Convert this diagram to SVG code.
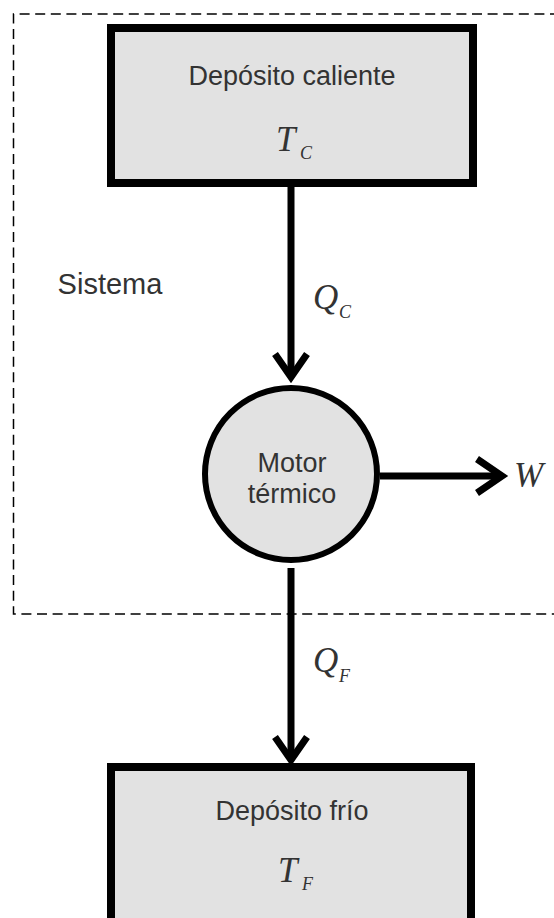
<svg xmlns="http://www.w3.org/2000/svg" width="554" height="918" viewBox="0 0 554 918">
<style>
.box{fill:#e2e2e2;stroke:#000;stroke-width:8}
.circ{fill:#e2e2e2;stroke:#000;stroke-width:6}
.lbl{font-family:"Liberation Sans",Arial,sans-serif;font-size:27px;fill:#333;text-anchor:middle}
.math{font-family:"Liberation Serif","Times New Roman",serif;font-style:italic;fill:#333}
.big{font-size:35px}
.sub{font-size:18px}
.conn{stroke:#000;stroke-width:7;fill:none}
.head{stroke:#000;stroke-width:7;fill:none;stroke-linejoin:miter}
.sys{fill:none;stroke:#000;stroke-width:1.5;stroke-dasharray:10 5.6}
</style>
<rect width="554" height="918" fill="#fff"/>
<g id="sistema">
<path class="sys" d="M560 14 H13.5 V614 H560"/>
<text class="lbl" x="110" y="294" style="font-size:29px">Sistema</text>
</g>
<g id="connectors">
<line class="conn" x1="291" y1="187" x2="291" y2="376"/>
<polyline class="head" points="275,354 291,377 307,354"/>
<line class="conn" x1="380" y1="476" x2="502" y2="476"/>
<polyline class="head" points="477,459 502,476 477,493"/>
<line class="conn" x1="291" y1="568" x2="291" y2="760"/>
<polyline class="head" points="275,737 291,760 307,737"/>
<text class="math big" x="313" y="309">Q</text><text class="math sub" x="339" y="318">C</text>
<text class="math big" x="313" y="672">Q</text><text class="math sub" x="339" y="682">F</text>
<text class="math big" x="514" y="487">W</text>
</g>
<g id="deposito-caliente">
<rect class="box" x="111" y="28" width="362" height="155"/>
<text class="lbl" x="292" y="85">Depósito caliente</text>
<text class="math big" x="276" y="151">T</text><text class="math sub" x="300" y="159">C</text>
</g>
<g id="motor">
<circle class="circ" cx="291" cy="474" r="86"/>
<text class="lbl" x="292" y="472">Motor</text>
<text class="lbl" x="292" y="503">térmico</text>
</g>
<g id="deposito-frio">
<rect class="box" x="111" y="767" width="360" height="170"/>
<text class="lbl" x="292" y="820">Depósito frío</text>
<text class="math big" x="278" y="882">T</text><text class="math sub" x="302" y="890">F</text>
</g>
</svg>
